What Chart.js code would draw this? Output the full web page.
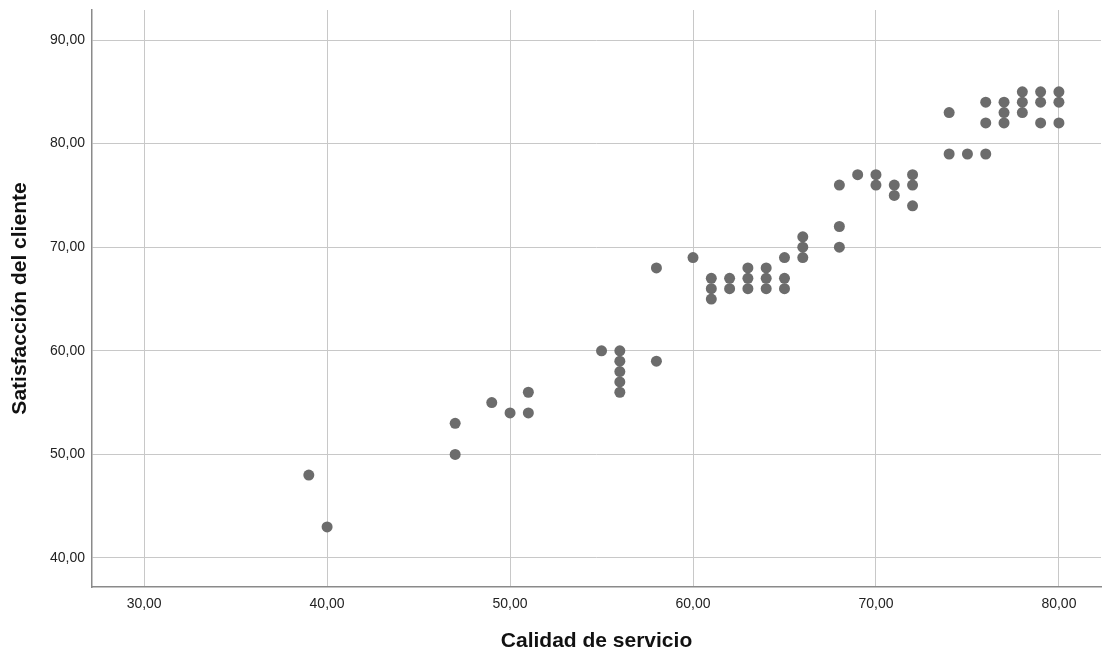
<!DOCTYPE html>
<html>
<head>
<meta charset="utf-8">
<script src="https://cdn.jsdelivr.net/npm/chart.js@4/dist/chart.umd.min.js"></script>
<style>
  html, body { margin: 0; padding: 0; background: #fff; }
  #wrap { width: 1102px; height: 655px; }
</style>
</head>
<body>
<div id="wrap"><canvas id="chart"></canvas></div>
<script>
// Calidad de servicio (x) vs Satisfacción del cliente (y)
var calidad = [39, 40, 47, 47, 49, 50, 51, 51, 55, 56, 56, 56, 56, 56, 58, 58, 60,
    61, 61, 61, 62, 62, 63, 63, 63, 64, 64, 64, 65, 65, 65, 66, 66, 66,
    68, 68, 68, 69, 70, 70, 71, 71, 72, 72, 72, 74, 74, 75, 76, 76, 76,
    77, 77, 77, 78, 78, 78, 79, 79, 79, 80, 80, 80];
var satisfaccion = [48, 43, 53, 50, 55, 54, 56, 54, 60, 60, 59, 58, 57, 56, 68, 59, 69,
    67, 66, 65, 67, 66, 68, 67, 66, 68, 67, 66, 69, 67, 66, 71, 70, 69,
    76, 72, 70, 77, 77, 76, 76, 75, 77, 76, 74, 83, 79, 79, 84, 82, 79,
    84, 83, 82, 85, 84, 83, 85, 84, 82, 85, 84, 82];
var xTicks = [30, 40, 50, 60, 70, 80];
var yTicks = [40, 50, 60, 70, 80, 90];

var puntos = calidad.map(function (v, i) { return { x: v, y: satisfaccion[i] }; });

function formato(v) { return v.toFixed(2).replace('.', ','); }

var chart = new Chart(
    document.getElementById('chart'),
    {
        type: 'scatter',
        data: {
            datasets: [{
                label: 'Satisfacción del cliente',
                data: puntos,
                backgroundColor: '#6c6c6c',
                borderColor: '#6c6c6c',
                pointRadius: 5.5,
                pointBorderWidth: 0
            }]
        },
        options: {
            responsive: true,
            maintainAspectRatio: false,
            animation: false,
            layout: { autoPadding: false, padding: { top: 10, right: 1, left: 0, bottom: 0 } },
            plugins: {
                legend: { display: false },
                tooltip: { enabled: false }
            },
            scales: {
                x: {
                    type: 'linear',
                    min: 27.15,
                    max: 82.3,
                    afterBuildTicks: function (s) { s.ticks = xTicks.map(function (v) { return { value: v }; }); },
                    afterFit: function (s) { s.height = 68; s.paddingLeft = 0; s.paddingRight = 0; },
                    grid: { color: '#c8c8c8', lineWidth: 1, drawTicks: false },
                    border: { color: '#8a8a8a', width: 1.5 },
                    ticks: {
                        padding: 9,
                        color: '#222',
                        font: { family: 'Liberation Sans', size: 14 },
                        callback: function (v) { return formato(v); }
                    },
                    title: {
                        display: true,
                        text: 'Calidad de servicio',
                        color: '#111',
                        font: { family: 'Liberation Sans', size: 21, weight: 'bold' },
                        padding: { top: 0, bottom: 1 }
                    }
                },
                y: {
                    type: 'linear',
                    min: 37.2,
                    max: 92.9,
                    afterBuildTicks: function (s) { s.ticks = yTicks.map(function (v) { return { value: v }; }); },
                    afterFit: function (s) { s.width = 92; s.paddingTop = 0; s.paddingBottom = 0; },
                    grid: { color: '#c8c8c8', lineWidth: 1, drawTicks: false },
                    border: { color: '#8a8a8a', width: 1.5 },
                    ticks: {
                        padding: 7,
                        color: '#222',
                        font: { family: 'Liberation Sans', size: 14 },
                        callback: function (v) { return formato(v); }
                    },
                    title: {
                        display: true,
                        text: 'Satisfacción del cliente',
                        color: '#111',
                        font: { family: 'Liberation Sans', size: 21, weight: 'bold' },
                        padding: { top: 8, bottom: 0 }
                    }
                }
            }
        }
    }
);
</script>
</body>
</html>
